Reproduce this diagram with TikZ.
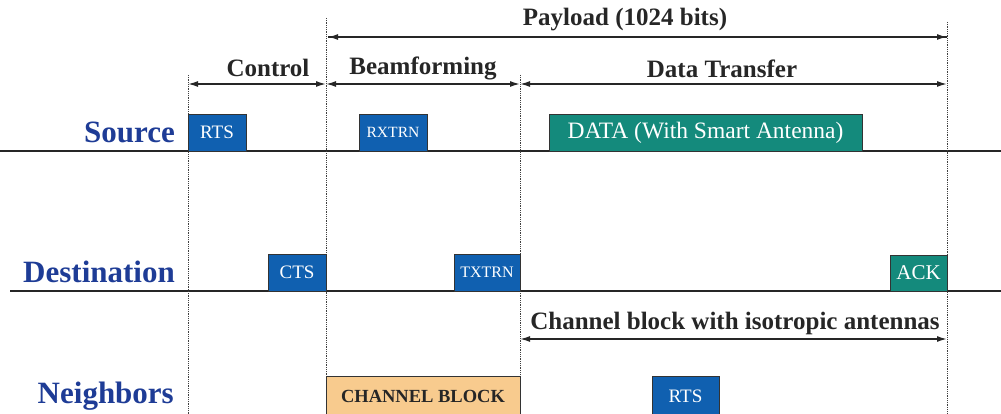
\documentclass[tikz,border=0pt]{standalone}
\usepackage{fontspec}
\setmainfont{Liberation Serif}
\usetikzlibrary{arrows.meta}
\definecolor{boxblue}{HTML}{1060B0}
\definecolor{labblue}{HTML}{1E3C96}
\definecolor{teal2}{HTML}{148A7C}
\definecolor{orange2}{HTML}{F8CB8E}
\begin{document}
\begin{tikzpicture}[x=1pt,y=-1pt,
  lane/.style={line width=1.6pt, draw=black!85},
  vdot/.style={densely dotted, line width=0.8pt, draw=black!75},
  dim/.style={{Latex[length=10pt,width=6pt]}-{Latex[length=10pt,width=6pt]}, line width=1.5pt, draw=black!85},
  hdr/.style={font=\fontsize{25}{28}\selectfont\bfseries, text=black!85, inner sep=0pt},
  rowlab/.style={font=\fontsize{31}{34}\selectfont\bfseries, text=labblue, anchor=east, inner sep=0pt},
  pkt/.style={draw=black!80, line width=0.8pt, fill=boxblue, text=white, inner sep=0pt, font=\fontsize{19}{21}\selectfont},
]
\useasboundingbox (0,0) rectangle (1001,414);
% lanes
\coordinate (sL) at (0,151); \coordinate (sR) at (1001,151);
\coordinate (dL) at (10,291); \coordinate (dR) at (1001,291);
\draw[lane] (sL) -- (sR);
\draw[lane] (dL) -- (dR);
% vertical dotted lines
\coordinate (v1t) at (188,75);  \coordinate (v1b) at (188,414);
\coordinate (v2t) at (326,18);  \coordinate (v2b) at (326,414);
\coordinate (v3t) at (520,75);  \coordinate (v3b) at (520,414);
\coordinate (v4t) at (947,22);  \coordinate (v4b) at (947,414);
\draw[vdot] (v1t) -- (v1b);
\draw[vdot] (v2t) -- (v2b);
\draw[vdot] (v3t) -- (v3b);
\draw[vdot] (v4t) -- (v4b);
% row labels
\node[rowlab] (src) at (175,132) {Source};
\node[rowlab] (dst) at (175,272) {Destination};
\node[rowlab] (ngb) at (174,396) {Neighbors};
% packets
\node[pkt, minimum width=58pt, minimum height=37pt] (rts) at (217,132.5) {RTS};
\node[pkt, minimum width=68pt, minimum height=37pt, font=\fontsize{15.6}{17}\selectfont] (rxtrn) at (393,132.5) {RXTRN};
\node[pkt, fill=teal2, minimum width=313pt, minimum height=37pt, font=\fontsize{23.5}{26}\selectfont] (data) at (705.5,132.5) {DATA (With Smart Antenna)};
\node[pkt, minimum width=58pt, minimum height=37pt] (cts) at (297,272.5) {CTS};
\node[pkt, minimum width=66pt, minimum height=37pt, font=\fontsize{16}{18}\selectfont] (txtrn) at (487,272.5) {TXTRN};
\node[pkt, fill=teal2, minimum width=57pt, minimum height=36pt, font=\fontsize{21}{23}\selectfont] (ack) at (918.5,273) {ACK};
\node[pkt, fill=orange2, text=black!85, minimum width=194pt, minimum height=40pt, font=\fontsize{18.5}{20}\selectfont\bfseries] (cb) at (423,396) {CHANNEL BLOCK};
\node[pkt, minimum width=67pt, minimum height=40pt] (rts2) at (685.5,396) {RTS};
% dimension arrows
\coordinate (pA) at (328,37); \coordinate (pB) at (947,37);
\draw[line width=1.5pt, draw=black!85, -{Latex[length=10pt,width=6pt]}] (pB) -- (pA);
\draw[line width=1.5pt, draw=black!85, -{Latex[length=10pt,width=6pt]}] (pA) -- (pB);
\node[hdr] (pay) at (625,20) {Payload (1024 bits)};
\coordinate (c1) at (188,84); \coordinate (c2) at (326,84);
\coordinate (c3) at (520,84); \coordinate (c4) at (947,84);
\draw[dim] (c1) -- (c2);
\draw[dim] (c2) -- (c3);
\draw[dim] (c3) -- (c4);
\node[hdr] (ctl) at (268,68) {Control};
\node[hdr] (bf) at (423,68) {Beamforming};
\node[hdr] (dt) at (722,69) {Data Transfer};
\coordinate (k1) at (520,339); \coordinate (k2) at (947,339);
\draw[dim] (k1) -- (k2);
\node[hdr] (cbl) at (735,323) {Channel block with isotropic antennas};
\end{tikzpicture}
\end{document}
